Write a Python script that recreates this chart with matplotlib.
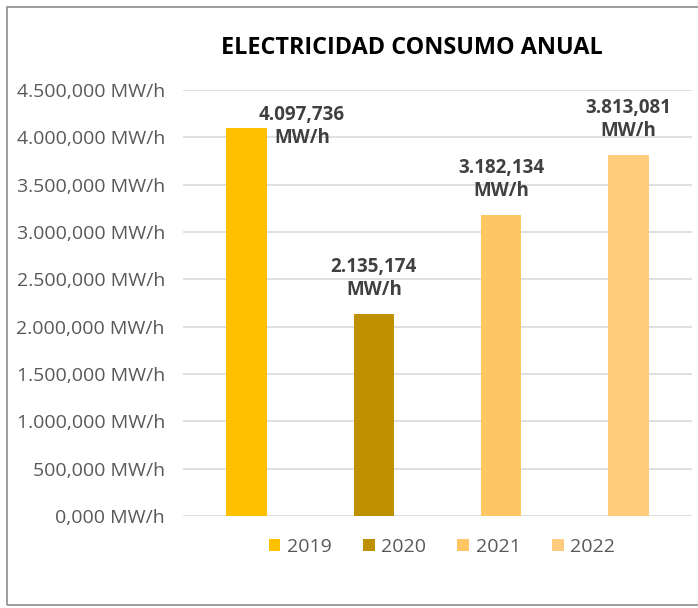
import matplotlib
matplotlib.use("Agg")
import matplotlib.pyplot as plt
from matplotlib.patches import Rectangle, Patch

# data
years = ["2019", "2020", "2021", "2022"]
consumo = [4097.736, 2135.174, 3182.134, 3813.081]
bar_colors = ["#FFC000", "#BF9000", "#FFC764", "#FFCB7C"]
y_ticks = [0, 500, 1000, 1500, 2000, 2500, 3000, 3500, 4000, 4500]
title = "ELECTRICIDAD CONSUMO ANUAL"

# label nudges (points): 2019 label was dragged to the right in the original
label_dx = [40, 0, 0, 0]
label_dy = [-14, 10, 10, 10]


def fmt_es(v):
    # 4097.736 -> "4.097,736"
    s = f"{v:,.3f}"
    return s.replace(",", "#").replace(".", ",").replace("#", ".")


plt.rcParams["font.family"] = ["Open Sans", "DejaVu Sans"]

fig = plt.figure(figsize=(6.98, 6.08), dpi=100)
fig.patch.set_facecolor("white")

# outer chart frame
fig.patches.append(Rectangle((7 / 698, 3 / 608), 1.0, 598 / 608, transform=fig.transFigure,
                             fill=False, edgecolor="#8c8c8c", linewidth=1.2))

ax = fig.add_axes([183 / 698, 1 - 516 / 608, 509 / 698, 426 / 608])
x = range(len(years))
bars = ax.bar(x, consumo, width=0.32, color=bar_colors, zorder=3)

ax.set_xlim(-0.5, 3.5)
ax.set_ylim(0, 4500)
ax.set_yticks(y_ticks)
ax.set_yticklabels([f"{fmt_es(v)} MW/h" for v in y_ticks], color="#595959", fontsize=14)
ax.set_xticks([])
ax.tick_params(axis="y", length=0, pad=13)
ax.grid(axis="y", color="#d9d9d9", linewidth=1.2, zorder=0)
for s in ax.spines.values():
    s.set_visible(False)

for i, (b, v) in enumerate(zip(bars, consumo)):
    ax.annotate(f"{fmt_es(v)}\nMW/h", (b.get_x() + b.get_width() / 2, v),
                xytext=(label_dx[i], label_dy[i]), textcoords="offset points",
                ha="center", va="bottom", fontsize=13.5, fontweight="bold",
                color="#404040", linespacing=1.2, annotation_clip=False)

fig.text(412 / 698, 1 - 48 / 608, title, ha="center", va="center",
         fontsize=16.8, fontweight="bold", color="#000000")

handles = [Patch(facecolor=c, edgecolor="none") for c in bar_colors]
fig.legend(handles, years, loc="center", bbox_to_anchor=(442 / 698, 1 - 547 / 608),
           ncol=4, frameon=False, fontsize=14, labelcolor="#595959",
           handlelength=0.6, handleheight=0.6, handletextpad=0.35, columnspacing=1.6)

fig.savefig("out.png", dpi=100, facecolor="white")
